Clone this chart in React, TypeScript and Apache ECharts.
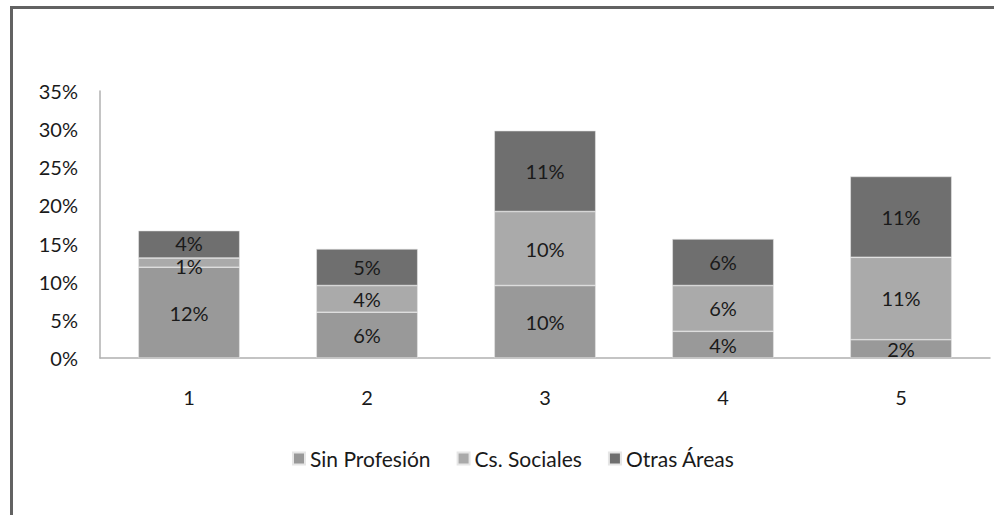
import React, { useEffect, useRef } from "react";
import * as echarts from "echarts";

const categories = ["1", "2", "3", "4", "5"];
const sinProfesion = [11.9, 6.0, 9.5, 3.5, 2.4];
const csSociales = [1.2, 3.5, 9.7, 6.0, 10.8];
const otrasAreas = [3.6, 4.8, 10.6, 6.1, 10.6];
const seriesNames = ["Sin Profesión", "Cs. Sociales", "Otras Áreas"];
const seriesColors = ["#999999", "#aaaaaa", "#6f6f6f"];

const FONT = "Lato";

export default function App() {
  const ref = useRef<HTMLDivElement>(null);
  useEffect(() => {
    const chart = echarts.init(ref.current!, null, { renderer: "svg" });
    const datasets = [sinProfesion, csSociales, otrasAreas];
    chart.setOption({
      animation: false,
      textStyle: { fontFamily: FONT },
      grid: { left: 100, right: 4, top: 91, bottom: 157, containLabel: false },
      legend: {
        left: 287,
        top: 443,
        itemWidth: 12,
        itemHeight: 12,
        itemGap: 26,
        icon: "rect",
        textStyle: { fontFamily: FONT, fontSize: 21, color: "#1a1a1a" },
        data: seriesNames,
      },
      xAxis: {
        type: "category",
        data: categories,
        axisLine: { lineStyle: { color: "#b0b0b0", width: 1.5 } },
        axisTick: { show: false },
        axisLabel: { fontFamily: FONT, fontSize: 20, color: "#1a1a1a", margin: 29 },
      },
      yAxis: {
        type: "value",
        min: 0,
        max: 35,
        interval: 5,
        axisLine: { show: true, lineStyle: { color: "#b0b0b0", width: 1.5 } },
        axisTick: { show: false },
        splitLine: { show: false },
        axisLabel: {
          fontFamily: FONT,
          fontSize: 20,
          color: "#1a1a1a",
          margin: 22,
          formatter: (v: number) => v + "%",
        },
      },
      graphic: [
        { type: "rect", shape: { x: 10, y: 6, width: 3, height: 509 }, style: { fill: "#626262" } },
        { type: "rect", shape: { x: 10, y: 6, width: 984, height: 3 }, style: { fill: "#626262" } },
      ],
      series: seriesNames.map((name, i) => ({
        name,
        type: "bar",
        stack: "total",
        barWidth: "57%",
        data: datasets[i].map((v, j) => {
          if (i === 1 && j === 0) return { value: v, label: { offset: [0, 3] } };
          if (i === 2 && j === 0) return { value: v, label: { offset: [0, -1] } };
          return v;
        }),
        itemStyle: { color: seriesColors[i], borderColor: "#e6e6e6", borderWidth: 0.6 },
        label: {
          show: true,
          position: "inside",
          fontFamily: FONT,
          fontSize: 20,
          lineHeight: 16,
          color: "#1a1a1a",
          formatter: (p: any) => Math.round(p.value) + "%",
        },
      })),
    });
    return () => chart.dispose();
  }, []);
  return (
    <div
      ref={ref}
      style={{ position: "absolute", left: 0, top: 0, width: 994, height: 515, background: "#fff" }}
    />
  );
}
